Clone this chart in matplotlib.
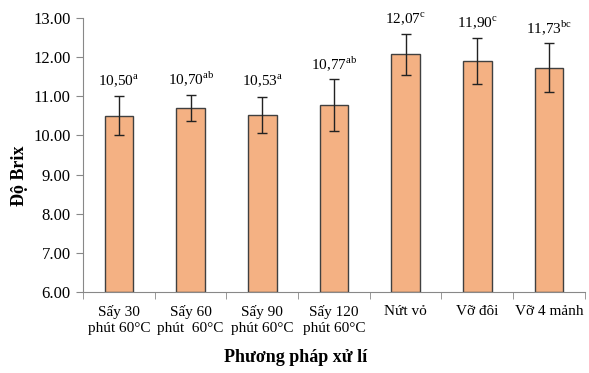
import numpy as np
import matplotlib.pyplot as plt

plt.rcParams['font.family'] = ['Liberation Serif', 'DejaVu Serif']
plt.rcParams['mathtext.fontset'] = 'custom'
plt.rcParams['mathtext.rm'] = 'Liberation Serif'

# --- du lieu ---
categories = ['Sấy 30\nphút 60°C', 'Sấy 60\nphút  60°C', 'Sấy 90\nphút 60°C',
              'Sấy 120\nphút 60°C', 'Nứt vỏ', 'Vỡ đôi', 'Vỡ 4 mảnh']
brix = [10.50, 10.70, 10.53, 10.77, 12.07, 11.90, 11.73]
errors = [0.50, 0.34, 0.46, 0.66, 0.52, 0.58, 0.63]
letters = ['a', 'ab', 'a', 'ab', 'c', 'c', 'bc']

fig = plt.figure(figsize=(5.89, 3.73), dpi=100)
ax = fig.add_axes([0.141, 0.217, 0.852, 0.735])

x = np.arange(len(categories))
ax.bar(x, [v - 6 for v in brix], bottom=6, width=0.4, color='#F4B183',
       edgecolor='#404040', linewidth=1.0, zorder=2)
ax.errorbar(x, brix, yerr=errors, fmt='none', ecolor='#222222',
            elinewidth=1.0, capsize=3.5, capthick=1.0, zorder=3)

for xi, v, e, l in zip(x, brix, errors, letters):
    label = f"{v:.2f}".replace('.', ',') + r'$^{\mathrm{' + l + '}}$'
    ax.annotate(label, (xi, v + e), xytext=(0, 4.5), textcoords='offset points',
                ha='center', va='bottom', fontsize=11)

ax.set_ylim(6, 13)
ax.set_yticks(np.arange(6, 13.5, 1))
ax.set_yticklabels([f"{t:.2f}" for t in np.arange(6, 13.5, 1)], fontsize=12)
ax.set_xlim(-0.5, len(categories) - 0.5)

# nhan truc x o giua, vach o ranh gioi
ax.set_xticks(x)
ax.set_xticklabels(categories, fontsize=11, linespacing=1.3)
ax.tick_params(axis='x', length=0, pad=9)
ax.set_xticks(np.arange(-0.5, len(categories)), minor=True)
ax.tick_params(axis='x', which='minor', length=5, color='#888888')
ax.tick_params(axis='y', length=5, color='#888888', pad=4)

for s in ['top', 'right']:
    ax.spines[s].set_visible(False)
for s in ['left', 'bottom']:
    ax.spines[s].set_color('#888888')

# tieu de truc
fig.text(20 / 589, 1 - 176 / 373, 'Độ Brix', rotation=90, ha='center',
         va='center', fontsize=13, fontweight='bold')
fig.text(296 / 589, 1 - 358 / 373, 'Phương pháp xử lí', ha='center',
         va='center', fontsize=13, fontweight='bold')

fig.savefig('out.png', dpi=100)
